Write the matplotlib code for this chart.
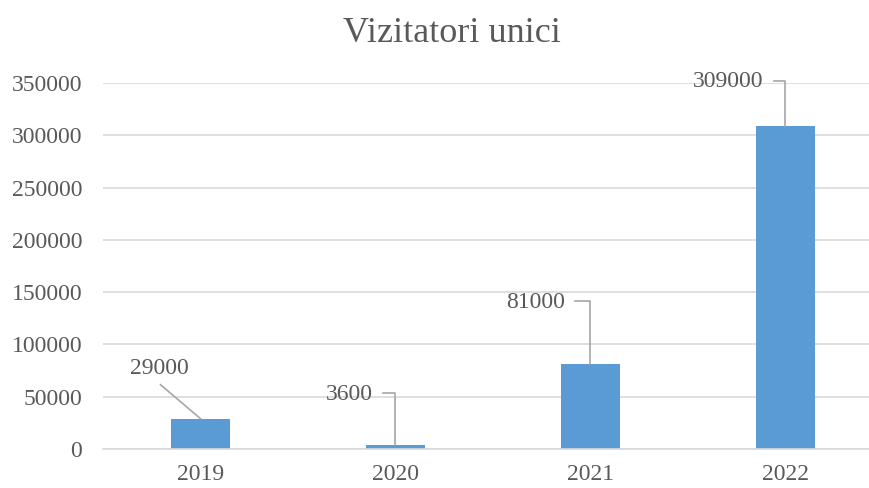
import matplotlib.pyplot as plt
from matplotlib.transforms import offset_copy

plt.rcParams['font.family'] = ['Liberation Serif', 'DejaVu Serif']

years = ['2019', '2020', '2021', '2022']
visitors = [29000, 3600, 81000, 309000]
yticks = [0, 50000, 100000, 150000, 200000, 250000, 300000, 350000]

# label placement for each bar, in pixels relative to the bar top:
# (text dx, text dy, ha, leader kind)
label_pos = [(-41, 50, 'center', 'straight'),
             (-23, 51, 'right', 'elbow'),
             (-25, 62, 'right', 'elbow'),
             (-22, 44, 'right', 'elbow')]

txt = '#595959'
grid = '#d9d9d9'
leader = '#a6a6a6'
blue = '#5b9bd5'

fig = plt.figure(figsize=(8.7, 4.88), dpi=100)
ax = fig.add_axes([103 / 870, 39 / 488, 780 / 870, 366 / 488])

x = range(len(years))
ax.bar(x, visitors, width=0.3, color=blue, zorder=3)

ax.set_xlim(-0.5, len(years) - 0.5)
ax.set_ylim(0, 350000)
ax.set_yticks(yticks)
ax.set_yticklabels([str(t) for t in yticks])
ax.set_xticks(list(x))
ax.set_xticklabels(years)
ax.tick_params(axis='both', length=0, labelsize=17, labelcolor=txt)
ax.tick_params(axis='y', pad=15)
ax.tick_params(axis='x', pad=11)
ax.yaxis.grid(True, color=grid, linewidth=1.2, zorder=0)
for s in ['top', 'right', 'left']:
    ax.spines[s].set_visible(False)
ax.spines['bottom'].set_color(grid)
ax.spines['bottom'].set_linewidth(1.2)
ax.spines['bottom'].set_zorder(4)

fig.text(452 / 870, 1 - 33 / 488, 'Vizitatori unici', ha='center', va='center',
         fontsize=26, color=txt)

for i, (v, (dx, dy, ha, kind)) in enumerate(zip(visitors, label_pos)):
    tr = offset_copy(ax.transData, fig=fig, x=dx, y=dy, units='dots')
    ax.text(i, v, str(v), transform=tr, ha=ha, va='center',
            fontsize=17, color=txt, zorder=5)
    if kind == 'straight':
        tr0 = offset_copy(ax.transData, fig=fig, x=dx + 1, y=dy - 16, units='dots')
        p0 = ax.transData.inverted().transform(tr0.transform((i, v)))
        ax.plot([p0[0], i], [p0[1], v], color=leader, lw=1.2, zorder=5)
    else:
        tr0 = offset_copy(ax.transData, fig=fig, x=dx + 10, y=dy + 1, units='dots')
        tr1 = offset_copy(ax.transData, fig=fig, x=0, y=dy + 1, units='dots')
        p0 = ax.transData.inverted().transform(tr0.transform((i, v)))
        p1 = ax.transData.inverted().transform(tr1.transform((i, v)))
        ax.plot([p0[0], p1[0], i], [p0[1], p1[1], v], color=leader, lw=1.2,
                zorder=5, clip_on=False)

fig.savefig('out.png', dpi=100)
